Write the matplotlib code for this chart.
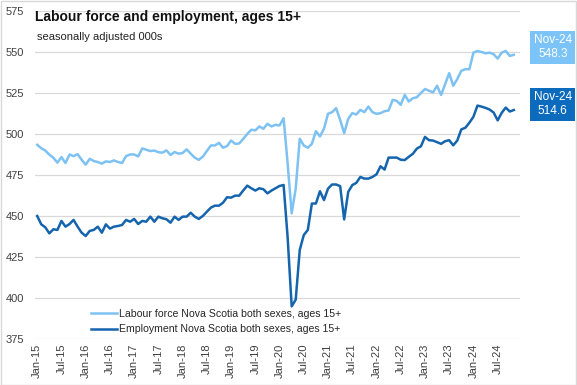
import numpy as np
import pandas as pd
import matplotlib
matplotlib.use('Agg')
import matplotlib.pyplot as plt
from matplotlib.patches import Rectangle

# monthly data, Jan-15 .. Nov-24 (seasonally adjusted, 000s)
labour_force = [
    493.4, 491.3, 489.9, 487.4, 485.5, 482.5, 485.9, 482.3, 487.5, 486.5, 487.7, 484.3,
    481.3, 484.9, 483.5, 482.9, 481.9, 483.3, 482.9, 483.9, 482.9, 482.3, 486.5, 487.5,
    487.5, 486.3, 491.2, 490.4, 489.6, 489.9, 488.9, 488.6, 490.0, 487.2, 489.0, 488.0,
    488.4, 490.6, 488.0, 485.6, 484.2, 486.2, 489.6, 493.0, 493.0, 494.6, 491.6, 492.6,
    496.0, 494.0, 494.2, 497.0, 500.0, 502.6, 502.2, 504.6, 503.2, 506.2, 504.6, 505.6,
    505.2, 509.6, 482.0, 451.6, 466.7, 497.1, 493.0, 491.6, 494.0, 501.7, 498.5, 503.2,
    512.3, 513.3, 515.7, 508.6, 500.5, 509.2, 512.7, 511.9, 514.7, 513.3, 516.7, 513.3,
    512.3, 512.7, 513.9, 514.3, 520.8, 520.2, 517.8, 523.8, 519.8, 521.8, 522.4, 525.0,
    527.4, 526.4, 525.4, 529.4, 523.8, 530.4, 537.1, 529.4, 533.5, 538.5, 539.5, 539.5,
    549.6, 550.6, 550.0, 549.2, 549.6, 548.6, 546.0, 549.6, 550.6, 547.6, 548.3,
]
employment = [
    450.0, 444.9, 443.1, 439.4, 441.9, 441.5, 447.0, 443.5, 445.1, 447.6, 443.5, 439.8,
    437.8, 440.9, 441.5, 443.5, 439.8, 444.9, 442.3, 443.5, 443.9, 444.5, 447.6, 446.5,
    448.2, 445.1, 447.0, 446.5, 449.6, 446.5, 449.6, 448.6, 448.0, 445.9, 449.6, 447.6,
    449.6, 449.6, 452.0, 449.6, 448.2, 450.0, 452.6, 455.1, 456.3, 456.3, 458.1, 461.4,
    461.2, 462.4, 462.4, 465.5, 468.5, 466.9, 465.5, 466.9, 466.3, 463.8, 465.5, 466.9,
    468.3, 468.9, 437.0, 394.9, 399.0, 429.3, 438.4, 441.5, 457.6, 457.6, 465.1, 459.7,
    466.7, 469.2, 469.2, 468.2, 447.9, 464.7, 468.8, 470.2, 473.8, 472.8, 472.8, 473.8,
    475.4, 480.3, 478.3, 485.6, 485.6, 485.6, 484.3, 484.1, 486.1, 487.9, 491.1, 492.5,
    498.2, 496.2, 496.0, 495.0, 494.0, 495.6, 496.2, 493.1, 496.0, 502.8, 503.8, 506.9,
    510.5, 517.3, 516.7, 515.9, 514.9, 513.1, 508.3, 512.9, 516.1, 513.7, 514.6,
]
months = pd.date_range('2015-01-01', periods=len(labour_force), freq='MS')
tick_months = months[::6]
last_label = months[-1].strftime('%b-%y')

lf_color = '#7DC2F2'
emp_color = '#1565AE'
plt.rcParams['font.family'] = ['Liberation Sans', 'DejaVu Sans']

fig = plt.figure(figsize=(5.77, 3.85), dpi=100)
ax = fig.add_axes([0.061, 0.1195, 0.84, 0.852])

x = np.arange(len(months))
ax.plot(x, labour_force, color=lf_color, lw=1.8,
        label='Labour force Nova Scotia both sexes, ages 15+')
ax.plot(x, employment, color=emp_color, lw=1.8,
        label='Employment Nova Scotia both sexes, ages 15+')

ax.set_xlim(-0.5, 119.5)
ax.set_ylim(375, 575)
ax.set_yticks(np.arange(375, 576, 25))
ax.set_xticks(x[::6])
ax.set_xticklabels([d.strftime('%b-%y') for d in tick_months], rotation=90)
ax.tick_params(length=0, labelsize=8, colors='#404040')
ax.tick_params(axis='y', pad=8)
ax.grid(axis='y', color='#D9D9D9', lw=0.9)
ax.set_axisbelow(True)
for s in ax.spines.values():
    s.set_visible(False)

leg = ax.legend(loc='lower left', bbox_to_anchor=(0.095, -0.015), frameon=False,
                fontsize=7.6, handlelength=2.5, handletextpad=0.2,
                labelspacing=0.55, labelcolor='#262626')

fig.text(0.061, 0.955, 'Labour force and employment, ages 15+', fontsize=10,
         fontweight='bold', va='center', color='#111111')
fig.text(0.064, 0.905, 'seasonally adjusted 000s', fontsize=8, va='center',
         color='#222222')

# end-of-series labels
fig.text(0.958, 0.877, f'{last_label}\n{labour_force[-1]:.1f}', fontsize=8.5, color='white',
         ha='center', va='center', linespacing=1.2,
         bbox=dict(boxstyle='square,pad=0.3', fc='#7CC4F8', ec='none'))
fig.text(0.958, 0.729, f'{last_label}\n{employment[-1]:.1f}', fontsize=8.5, color='white',
         ha='center', va='center', linespacing=1.2,
         bbox=dict(boxstyle='square,pad=0.3', fc='#0D6BBE', ec='none'))

fig.patches.append(Rectangle((0.001, 0.001), 0.997, 0.997, transform=fig.transFigure,
                             fill=False, ec='#D9D9D9', lw=1))

fig.savefig('out.png', dpi=100)
